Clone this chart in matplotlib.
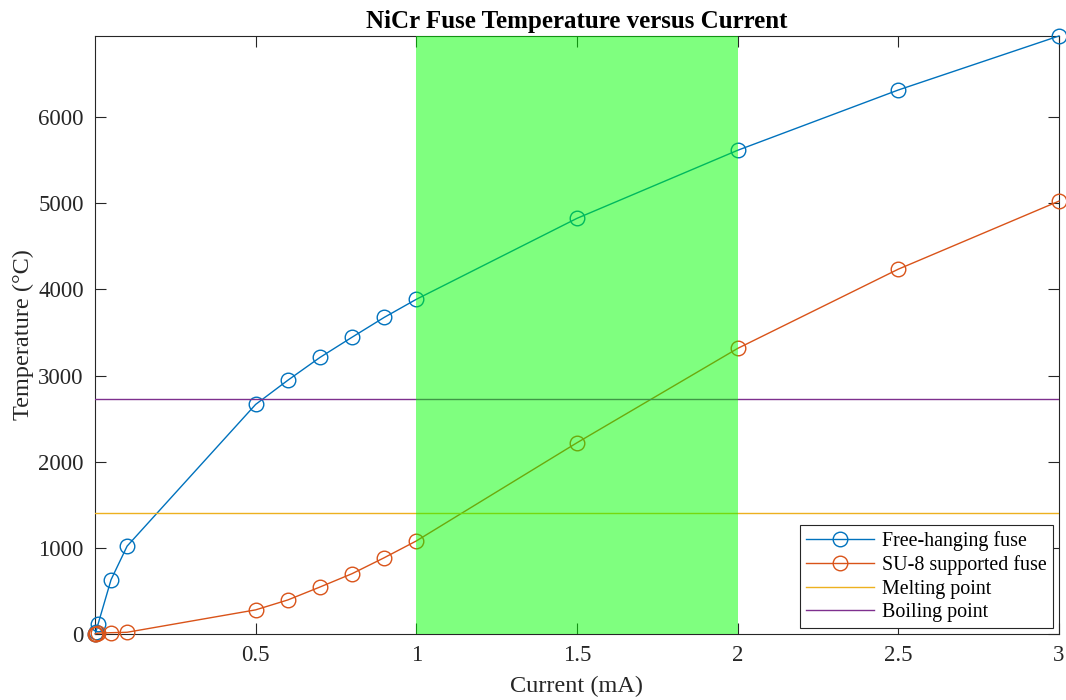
import matplotlib.pyplot as plt

current = [0.001, 0.003, 0.01, 0.05, 0.1, 0.5, 0.6, 0.7, 0.8, 0.9, 1.0, 1.5, 2.0, 2.5, 3.0]
free_temp = [3, 25, 120, 630, 1020, 2665, 2945, 3210, 3445, 3675, 3885, 4825, 5615, 6315, 6942]
su8_temp = [2, 5, 10, 15, 20, 280, 395, 545, 700, 885, 1080, 2220, 3315, 4235, 5025]
melting_point = 1400
boiling_point = 2730
window = (1.0, 2.0)

plt.rcParams['font.family'] = ['Liberation Serif', 'DejaVu Serif']

fig = plt.figure(figsize=(10.66, 7), dpi=100)
ax = fig.add_axes([0.0891, 0.0943, 0.9043, 0.8543])

ax.plot(current, free_temp, '-o', color='#0072BD', lw=1, ms=10.5, mfc='none', mew=1,
        label='Free-hanging fuse', clip_on=False, zorder=3)
ax.plot(current, su8_temp, '-o', color='#D95319', lw=1, ms=10.5, mfc='none', mew=1,
        label='SU-8 supported fuse', clip_on=False, zorder=3)
ax.plot([0, 3], [melting_point, melting_point], color='#EDB120', lw=1, label='Melting point', zorder=3)
ax.plot([0, 3], [boiling_point, boiling_point], color='#7E2F8E', lw=1, label='Boiling point', zorder=3)
ax.axvspan(window[0], window[1], color=(0, 1, 0), alpha=0.5, lw=0, zorder=4)

ax.set_xlim(0, 3)
ax.set_ylim(0, 6942)
ax.set_xticks([0.5, 1, 1.5, 2, 2.5, 3])
ax.set_xticklabels(['0.5', '1', '1.5', '2', '2.5', '3'])
ax.set_yticks([0, 1000, 2000, 3000, 4000, 5000, 6000])
ax.tick_params(direction='in', top=True, right=True, labelsize=16.5, length=8, width=0.8,
               colors='#262626', pad=8)
for s in ax.spines.values():
    s.set_color('#262626')
    s.set_linewidth(0.8)

ax.set_title('NiCr Fuse Temperature versus Current', fontsize=18, fontweight='bold', pad=6)
ax.set_xlabel('Current (mA)', fontsize=17.5, color='#262626', labelpad=7)
ax.set_ylabel('Temperature (°C)', fontsize=17.5, color='#262626', labelpad=3)

leg = ax.legend(loc='lower right', fontsize=14.4, fancybox=False, framealpha=1,
                edgecolor='#262626', borderaxespad=0.3, handlelength=3.4,
                labelspacing=0.22, borderpad=0.3, handletextpad=0.4)
leg.get_frame().set_linewidth(0.8)
leg.set_zorder(5)

fig.savefig('out.png', dpi=100)
